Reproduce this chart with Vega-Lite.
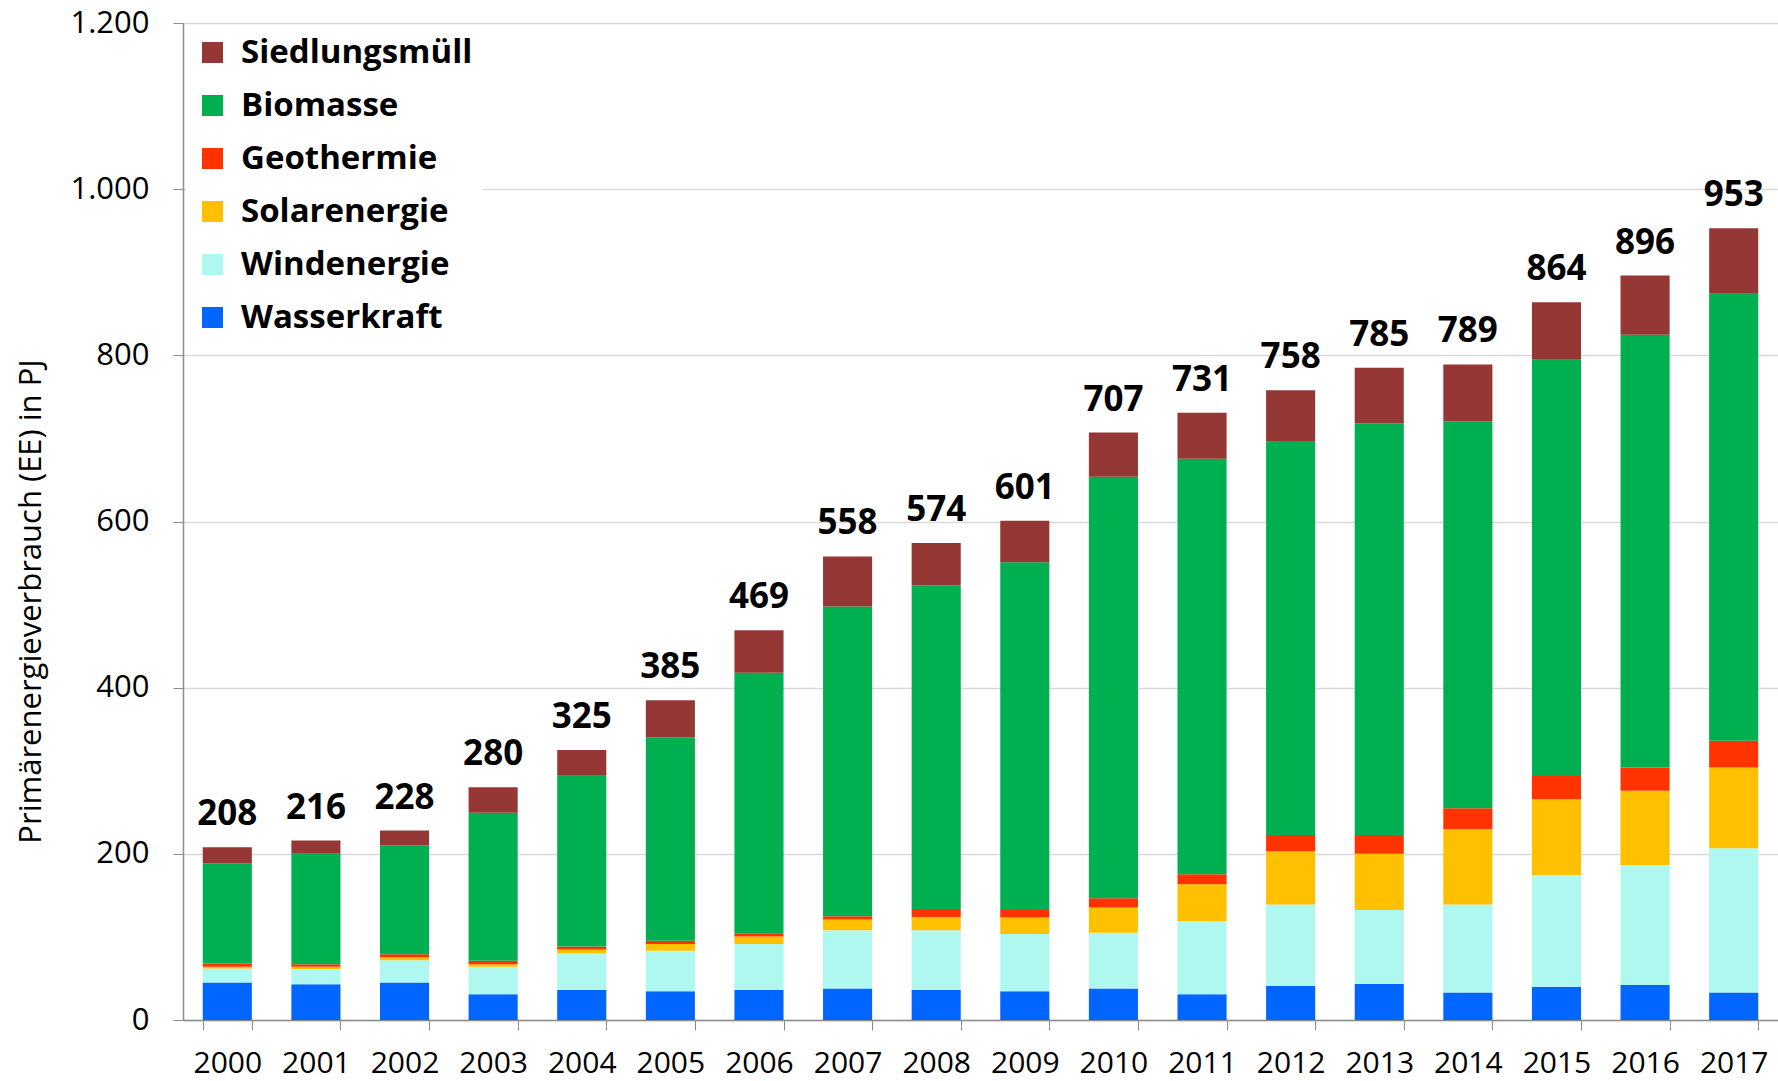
{
  "$schema": "https://vega.github.io/schema/vega-lite/v6.json",
  "width": 1595,
  "height": 997,
  "autosize": {"type": "none"},
  "padding": {"left": 183, "top": 23, "right": 0, "bottom": 61},
  "background": "white",
  "config": {
    "locale": {"number": {"decimal": ",", "thousands": ".", "grouping": [3], "currency": ["", " €"]}},
    "view": {"stroke": null},
    "font": "Open Sans"
  },
  "datasets": {
    "segments": [
      {"year": "2000", "source": "Wasserkraft", "value": 45},
      {"year": "2000", "source": "Windenergie", "value": 17},
      {"year": "2000", "source": "Solarenergie", "value": 2},
      {"year": "2000", "source": "Geothermie", "value": 4},
      {"year": "2000", "source": "Biomasse", "value": 120.6},
      {"year": "2000", "source": "Siedlungsmüll", "value": 19.4},
      {"year": "2001", "source": "Wasserkraft", "value": 43},
      {"year": "2001", "source": "Windenergie", "value": 18},
      {"year": "2001", "source": "Solarenergie", "value": 3},
      {"year": "2001", "source": "Geothermie", "value": 3},
      {"year": "2001", "source": "Biomasse", "value": 133},
      {"year": "2001", "source": "Siedlungsmüll", "value": 16},
      {"year": "2002", "source": "Wasserkraft", "value": 45},
      {"year": "2002", "source": "Windenergie", "value": 27},
      {"year": "2002", "source": "Solarenergie", "value": 3.5},
      {"year": "2002", "source": "Geothermie", "value": 3.5},
      {"year": "2002", "source": "Biomasse", "value": 131},
      {"year": "2002", "source": "Siedlungsmüll", "value": 18},
      {"year": "2003", "source": "Wasserkraft", "value": 31},
      {"year": "2003", "source": "Windenergie", "value": 33},
      {"year": "2003", "source": "Solarenergie", "value": 3},
      {"year": "2003", "source": "Geothermie", "value": 4.4},
      {"year": "2003", "source": "Biomasse", "value": 178.1},
      {"year": "2003", "source": "Siedlungsmüll", "value": 30.5},
      {"year": "2004", "source": "Wasserkraft", "value": 36},
      {"year": "2004", "source": "Windenergie", "value": 44},
      {"year": "2004", "source": "Solarenergie", "value": 5},
      {"year": "2004", "source": "Geothermie", "value": 3.6},
      {"year": "2004", "source": "Biomasse", "value": 205.4},
      {"year": "2004", "source": "Siedlungsmüll", "value": 31},
      {"year": "2005", "source": "Wasserkraft", "value": 34.5},
      {"year": "2005", "source": "Windenergie", "value": 49},
      {"year": "2005", "source": "Solarenergie", "value": 8},
      {"year": "2005", "source": "Geothermie", "value": 4},
      {"year": "2005", "source": "Biomasse", "value": 244.5},
      {"year": "2005", "source": "Siedlungsmüll", "value": 45},
      {"year": "2006", "source": "Wasserkraft", "value": 36},
      {"year": "2006", "source": "Windenergie", "value": 55.5},
      {"year": "2006", "source": "Solarenergie", "value": 9},
      {"year": "2006", "source": "Geothermie", "value": 4},
      {"year": "2006", "source": "Biomasse", "value": 313.5},
      {"year": "2006", "source": "Siedlungsmüll", "value": 51},
      {"year": "2007", "source": "Wasserkraft", "value": 38},
      {"year": "2007", "source": "Windenergie", "value": 70},
      {"year": "2007", "source": "Solarenergie", "value": 13},
      {"year": "2007", "source": "Geothermie", "value": 4},
      {"year": "2007", "source": "Biomasse", "value": 372.6},
      {"year": "2007", "source": "Siedlungsmüll", "value": 60.4},
      {"year": "2008", "source": "Wasserkraft", "value": 36},
      {"year": "2008", "source": "Windenergie", "value": 72},
      {"year": "2008", "source": "Solarenergie", "value": 16},
      {"year": "2008", "source": "Geothermie", "value": 9.6},
      {"year": "2008", "source": "Biomasse", "value": 389.4},
      {"year": "2008", "source": "Siedlungsmüll", "value": 51},
      {"year": "2009", "source": "Wasserkraft", "value": 34.5},
      {"year": "2009", "source": "Windenergie", "value": 69},
      {"year": "2009", "source": "Solarenergie", "value": 20},
      {"year": "2009", "source": "Geothermie", "value": 9},
      {"year": "2009", "source": "Biomasse", "value": 418.5},
      {"year": "2009", "source": "Siedlungsmüll", "value": 50},
      {"year": "2010", "source": "Wasserkraft", "value": 38},
      {"year": "2010", "source": "Windenergie", "value": 67},
      {"year": "2010", "source": "Solarenergie", "value": 30.5},
      {"year": "2010", "source": "Geothermie", "value": 11},
      {"year": "2010", "source": "Biomasse", "value": 507.5},
      {"year": "2010", "source": "Siedlungsmüll", "value": 53},
      {"year": "2011", "source": "Wasserkraft", "value": 31},
      {"year": "2011", "source": "Windenergie", "value": 88},
      {"year": "2011", "source": "Solarenergie", "value": 44.5},
      {"year": "2011", "source": "Geothermie", "value": 12},
      {"year": "2011", "source": "Biomasse", "value": 500},
      {"year": "2011", "source": "Siedlungsmüll", "value": 55.5},
      {"year": "2012", "source": "Wasserkraft", "value": 41},
      {"year": "2012", "source": "Windenergie", "value": 98},
      {"year": "2012", "source": "Solarenergie", "value": 64},
      {"year": "2012", "source": "Geothermie", "value": 19.7},
      {"year": "2012", "source": "Biomasse", "value": 474.3},
      {"year": "2012", "source": "Siedlungsmüll", "value": 61},
      {"year": "2013", "source": "Wasserkraft", "value": 43.3},
      {"year": "2013", "source": "Windenergie", "value": 89.1},
      {"year": "2013", "source": "Solarenergie", "value": 67.6},
      {"year": "2013", "source": "Geothermie", "value": 22.7},
      {"year": "2013", "source": "Biomasse", "value": 495.3},
      {"year": "2013", "source": "Siedlungsmüll", "value": 67},
      {"year": "2014", "source": "Wasserkraft", "value": 33},
      {"year": "2014", "source": "Windenergie", "value": 106},
      {"year": "2014", "source": "Solarenergie", "value": 90.5},
      {"year": "2014", "source": "Geothermie", "value": 25.3},
      {"year": "2014", "source": "Biomasse", "value": 465.6},
      {"year": "2014", "source": "Siedlungsmüll", "value": 68.6},
      {"year": "2015", "source": "Wasserkraft", "value": 40},
      {"year": "2015", "source": "Windenergie", "value": 134.6},
      {"year": "2015", "source": "Solarenergie", "value": 91},
      {"year": "2015", "source": "Geothermie", "value": 28.1},
      {"year": "2015", "source": "Biomasse", "value": 500.9},
      {"year": "2015", "source": "Siedlungsmüll", "value": 69.4},
      {"year": "2016", "source": "Wasserkraft", "value": 42},
      {"year": "2016", "source": "Windenergie", "value": 144.6},
      {"year": "2016", "source": "Solarenergie", "value": 89.4},
      {"year": "2016", "source": "Geothermie", "value": 28},
      {"year": "2016", "source": "Biomasse", "value": 520.7},
      {"year": "2016", "source": "Siedlungsmüll", "value": 71.3},
      {"year": "2017", "source": "Wasserkraft", "value": 33},
      {"year": "2017", "source": "Windenergie", "value": 173.7},
      {"year": "2017", "source": "Solarenergie", "value": 97.3},
      {"year": "2017", "source": "Geothermie", "value": 32},
      {"year": "2017", "source": "Biomasse", "value": 538},
      {"year": "2017", "source": "Siedlungsmüll", "value": 79}
    ],
    "totals": [
      {"year": "2000", "total": 208},
      {"year": "2001", "total": 216},
      {"year": "2002", "total": 228},
      {"year": "2003", "total": 280},
      {"year": "2004", "total": 325},
      {"year": "2005", "total": 385},
      {"year": "2006", "total": 469},
      {"year": "2007", "total": 558},
      {"year": "2008", "total": 574},
      {"year": "2009", "total": 601},
      {"year": "2010", "total": 707},
      {"year": "2011", "total": 731},
      {"year": "2012", "total": 758},
      {"year": "2013", "total": 785},
      {"year": "2014", "total": 789},
      {"year": "2015", "total": 864},
      {"year": "2016", "total": 896},
      {"year": "2017", "total": 953}
    ]
  },
  "layer": [
    {
      "data": {"name": "segments"},
      "transform": [
        {"calculate": "indexof(['Wasserkraft','Windenergie','Solarenergie','Geothermie','Biomasse','Siedlungsmüll'], datum.source)", "as": "stackIndex"}
      ],
      "mark": {"type": "bar"},
      "encoding": {
        "x": {
          "field": "year", "type": "ordinal",
          "scale": {"paddingInner": 0.446, "paddingOuter": 0.223},
          "axis": {
            "title": null, "labelAngle": 0, "tickBand": "extent", "tickSize": 10,
            "domainColor": "#8c8c8c", "tickColor": "#8c8c8c", "domainWidth": 1.5,
            "labelFontSize": 30, "labelColor": "#000000", "labelPadding": 18
          }
        },
        "y": {
          "field": "value", "type": "quantitative", "stack": "zero",
          "scale": {"domain": [0, 1200], "nice": false},
          "axis": {
            "values": [0, 200, 400, 600, 800, 1000, 1200], "format": ",d",
            "grid": true, "gridColor": "#d9d9d9", "gridWidth": 1.5,
            "domainColor": "#8c8c8c", "tickColor": "#8c8c8c", "domainWidth": 1.5, "tickSize": 10,
            "labelFontSize": 31, "labelColor": "#000000", "labelPadding": 24,
            "title": "Primärenergieverbrauch (EE) in PJ",
            "titleFontSize": 31, "titleFontWeight": 500, "titleColor": "#000000",
            "titleAngle": -90, "titleX": -152, "titleY": 578,
            "titleAlign": "center", "titleBaseline": "middle"
          }
        },
        "color": {
          "field": "source", "type": "nominal",
          "scale": {
            "domain": ["Siedlungsmüll", "Biomasse", "Geothermie", "Solarenergie", "Windenergie", "Wasserkraft"],
            "range": ["#953735", "#00b050", "#ff3300", "#ffc000", "#aef8f0", "#0066ff"]
          },
          "legend": {
            "orient": "none", "legendX": 3, "legendY": 3,
            "fillColor": "white", "padding": 10, "title": null,
            "symbolType": "square", "symbolSize": 441, "symbolStrokeWidth": 0,
            "labelFontSize": 33, "labelFontWeight": "bold", "labelColor": "#000000",
            "labelOffset": 12, "rowPadding": 19, "labelLimit": 400
          }
        },
        "order": {"field": "stackIndex", "type": "quantitative", "sort": "ascending"}
      }
    },
    {
      "data": {"name": "totals"},
      "mark": {"type": "text", "fontWeight": "bold", "fontSize": 35, "dy": -22, "baseline": "alphabetic", "color": "#000000"},
      "encoding": {
        "x": {"field": "year", "type": "ordinal"},
        "y": {"field": "total", "type": "quantitative"},
        "text": {"field": "total", "type": "quantitative", "format": "d"}
      }
    }
  ]
}
